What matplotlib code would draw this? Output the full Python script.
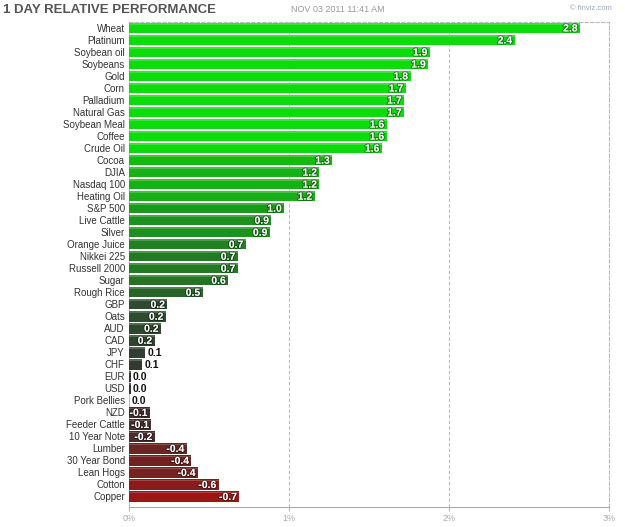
import matplotlib
matplotlib.use("Agg")
import matplotlib.pyplot as plt
import matplotlib.patheffects as pe
import numpy as np

categories = ["Wheat", "Platinum", "Soybean oil", "Soybeans", "Gold", "Corn", "Palladium",
              "Natural Gas", "Soybean Meal", "Coffee", "Crude Oil", "Cocoa", "DJIA", "Nasdaq 100",
              "Heating Oil", "S&P 500", "Live Cattle", "Silver", "Orange Juice", "Nikkei 225",
              "Russell 2000", "Sugar", "Rough Rice", "GBP", "Oats", "AUD", "CAD", "JPY", "CHF",
              "EUR", "USD", "Pork Bellies", "NZD", "Feeder Cattle", "10 Year Note", "Lumber",
              "30 Year Bond", "Lean Hogs", "Cotton", "Copper"]
values = [2.82, 2.41, 1.88, 1.87, 1.76, 1.73, 1.72, 1.72, 1.61, 1.61, 1.58, 1.27, 1.19, 1.19,
          1.16, 0.97, 0.89, 0.88, 0.73, 0.68, 0.68, 0.62, 0.46, 0.24, 0.23, 0.20, 0.16, 0.10, 0.08,
          0.01, 0.01, 0.0, -0.13, -0.14, -0.16, -0.36, -0.39, -0.43, -0.56, -0.69]
x_ticks = [0, 1, 2, 3]
x_ticklabels = ["0%", "1%", "2%", "3%"]
title = "1 DAY RELATIVE PERFORMANCE"
timestamp = "NOV 03 2011 11:41 AM"
credit = "\u00a9 finviz.com"

plt.rcParams['font.family'] = ['Liberation Sans', 'DejaVu Sans']

W, H = 625, 527
fig = plt.figure(figsize=(W / 100, H / 100), dpi=100)
fig.patch.set_facecolor("white")
left, right, top, bottom = 129, 609, 22, 507
ax = fig.add_axes([left / W, 1 - bottom / H, (right - left) / W, (bottom - top) / H])

gray = np.array([0x33, 0x33, 0x33]) / 255
green = np.array([0x0c, 0xdc, 0x0c]) / 255
red = np.array([0xd0, 0x08, 0x08]) / 255


def bar_color(v):
    if v >= 0:
        t = min(v / 1.6, 1.0)
        return tuple(gray + (green - gray) * t)
    t = min(-v / 1.0, 1.0)
    return tuple(gray + (red - gray) * t)


n = len(categories)
y = np.arange(n)
mags = [abs(v) for v in values]
colors = [bar_color(v) for v in values]
ax.barh(y, mags, height=0.88, color=colors, edgecolor="none", zorder=3)
# light top highlight for a glossy look
ax.barh(y - 0.34, mags, height=0.12, color="white", alpha=0.2, edgecolor="none", zorder=4)

for i, v in enumerate(values):
    lab = f"{v:.1f}"
    m = abs(v)
    if m >= 0.12:
        ax.text(m - 0.015, i + 0.05, lab, ha="right", va="center", fontsize=7.5,
                fontweight="bold", color="white", zorder=5,
                path_effects=[pe.withStroke(linewidth=1.5, foreground=(0, 0, 0, 0.4))])
    else:
        ax.text(m + 0.015, i + 0.05, lab, ha="left", va="center", fontsize=7.5,
                fontweight="bold", color="#111111", zorder=5)

ax.set_xlim(0, 3)
ax.set_ylim(n - 1 + 0.88, -0.49)
ax.set_yticks(y)
ax.set_yticklabels(categories, fontsize=7, color="#333333")
ax.tick_params(axis="y", length=0, pad=3)
ax.set_xticks(x_ticks)
ax.set_xticklabels(x_ticklabels, fontsize=6.5, color="#aaaaaa")
ax.tick_params(axis="x", length=3, color="#bbbbbb", pad=2)

for s in ["top", "right"]:
    ax.spines[s].set_visible(True)
    ax.spines[s].set_linestyle((0, (3, 2)))
    ax.spines[s].set_color("#bbbbbb")
    ax.spines[s].set_linewidth(0.8)
ax.spines["left"].set_visible(False)
ax.spines["bottom"].set_color("#aaaaaa")
ax.spines["bottom"].set_linewidth(0.8)
ax.axvline(0, color="#bbbbbb", lw=0.8, zorder=1)
for xv in [1, 2]:
    ax.axvline(xv, color="#bbbbbb", lw=0.8, ls=(0, (3, 2)), zorder=1)

fig.text(3 / W, 1 - 10 / H, title, fontsize=9.5, fontweight="bold", color="#555555",
         ha="left", va="center")
fig.text(291 / W, 1 - 9 / H, timestamp, fontsize=6.5, color="#999999", ha="left", va="center")
fig.text(612 / W, 1 - 9 / H, credit, fontsize=5.5, color="#99aabb", ha="right", va="center")

fig.savefig("out.png", dpi=100, facecolor="white")
